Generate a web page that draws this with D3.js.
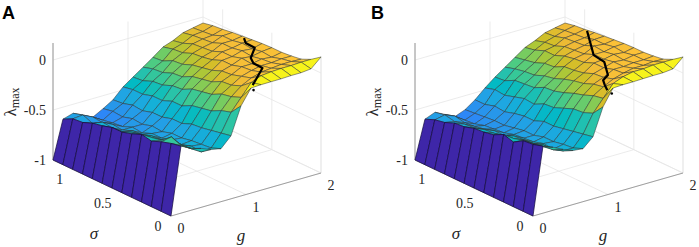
<!DOCTYPE html>
<html>
<head>
<meta charset="utf-8">
<script src="https://cdn.jsdelivr.net/npm/d3@7"></script>
<style>
  body { margin: 0; background: #fff; }
  svg { display: block; }
  text { font-family: "Liberation Serif", serif; fill: #262626; }
</style>
</head>
<body>
<div id="chart"></div>
<script>
const gValues = [0, 0.133, 0.267, 0.4, 0.533, 0.667, 0.8, 0.933, 1.067, 1.2, 1.333, 1.467, 1.6, 1.733, 1.867, 2]
const sigmaValues = [0, 0.1, 0.2, 0.3, 0.4, 0.5, 0.6, 0.7, 0.8, 0.9, 1, 1.1, 1.2]
const gTicks = [0, 1, 2]
const sigmaTicks = [0, 0.5, 1]
const lambdaTicks = [-1, -0.5, 0]

// parula, every third step of the 64 level map
const parula = ["#3e26a8", "#4332cb", "#4741e5", "#4852f4", "#4563fd", "#3875fe", "#2d87f7", "#2796eb", "#20a5e3", "#12b1d6", "#02bac3", "#24c1ae", "#37c897", "#57cc7a", "#80cc59", "#abc739", "#d1bf27", "#efba36", "#fec338", "#fad62d", "#f5e924", "#f9fb15"]

// rows are sigma, columns are g
const surfaceA = [
  [-1, -0.33, -0.38, -0.41, -0.45, -0.47, -0.37, -0.10, 0.05, 0.055, 0.056, 0.056, 0.06, 0.06, 0.07, 0.16],
  [-1, -0.35, -0.40, -0.46, -0.52, -0.51, -0.39, -0.21, -0.09, 0.03, 0.07, 0.08, 0.085, 0.085, 0.09, 0.09],
  [-1, -0.38, -0.36, -0.47, -0.51, -0.52, -0.41, -0.24, -0.13, -0.05, 0, 0.03, 0.04, 0.05, 0.05, 0.045],
  [-1, -0.42, -0.44, -0.48, -0.54, -0.53, -0.43, -0.29, -0.15, -0.09, -0.03, 0, 0.02, 0.02, 0.03, 0.03],
  [-1, -0.40, -0.46, -0.51, -0.54, -0.55, -0.44, -0.31, -0.20, -0.10, -0.06, -0.01, -0.01, 0.01, 0, 0.02],
  [-1, -0.44, -0.48, -0.52, -0.57, -0.55, -0.48, -0.33, -0.22, -0.15, -0.07, -0.04, 0, -0.01, 0.01, 0.02],
  [-1, -0.47, -0.50, -0.55, -0.57, -0.58, -0.48, -0.38, -0.24, -0.17, -0.11, -0.04, -0.03, 0, -0.01, 0.015],
  [-1, -0.47, -0.54, -0.56, -0.61, -0.57, -0.51, -0.38, -0.29, -0.19, -0.13, -0.08, -0.03, -0.02, 0, 0.005],
  [-1, -0.50, -0.55, -0.60, -0.60, -0.60, -0.51, -0.42, -0.30, -0.24, -0.15, -0.10, -0.07, -0.02, -0.02, -0.005],
  [-1, -0.52, -0.54, -0.59, -0.64, -0.59, -0.54, -0.42, -0.34, -0.25, -0.19, -0.11, -0.08, -0.06, -0.02, -0.015],
  [-1, -0.56, -0.60, -0.62, -0.65, -0.62, -0.53, -0.45, -0.35, -0.29, -0.20, -0.15, -0.09, -0.07, -0.06, -0.03],
  [-1, -0.57, -0.56, -0.61, -0.67, -0.61, -0.56, -0.45, -0.39, -0.30, -0.25, -0.16, -0.13, -0.08, -0.07, -0.04],
  [-1, -0.62, -0.59, -0.64, -0.685, -0.63, -0.57, -0.47, -0.40, -0.33, -0.26, -0.185, -0.15, -0.10, -0.08, -0.06]
]

const surfaceB = [
  [-1, -0.33, -0.37, -0.42, -0.46, -0.47, -0.38, -0.11, 0.05, 0.055, 0.055, 0.058, 0.06, 0.06, 0.07, 0.16],
  [-1, -0.36, -0.41, -0.47, -0.51, -0.51, -0.40, -0.22, -0.10, 0.02, 0.06, 0.08, 0.08, 0.09, 0.09, 0.09],
  [-1, -0.37, -0.43, -0.47, -0.54, -0.52, -0.42, -0.26, -0.12, -0.06, -0.01, 0.02, 0.04, 0.04, 0.05, 0.045],
  [-1, -0.43, -0.44, -0.50, -0.53, -0.54, -0.44, -0.27, -0.16, -0.08, -0.04, 0.01, 0.01, 0.02, 0.02, 0.03],
  [-1, -0.40, -0.47, -0.51, -0.56, -0.54, -0.46, -0.31, -0.19, -0.12, -0.05, -0.02, 0.01, 0, 0.02, 0.02],
  [-1, -0.45, -0.49, -0.52, -0.57, -0.57, -0.46, -0.35, -0.23, -0.14, -0.09, -0.02, -0.01, 0.01, 0, 0.02],
  [-1, -0.47, -0.51, -0.56, -0.58, -0.57, -0.50, -0.36, -0.26, -0.17, -0.11, -0.06, -0.01, -0.01, 0.01, 0.015],
  [-1, -0.48, -0.52, -0.56, -0.61, -0.59, -0.50, -0.41, -0.27, -0.21, -0.12, -0.07, -0.05, 0, -0.01, 0.005],
  [-1, -0.51, -0.55, -0.59, -0.62, -0.61, -0.52, -0.40, -0.32, -0.23, -0.17, -0.09, -0.06, -0.04, -0.01, -0.005],
  [-1, -0.52, -0.56, -0.61, -0.63, -0.61, -0.55, -0.43, -0.33, -0.27, -0.18, -0.13, -0.07, -0.05, -0.04, -0.015],
  [-1, -0.56, -0.58, -0.62, -0.66, -0.62, -0.54, -0.46, -0.34, -0.28, -0.22, -0.13, -0.11, -0.06, -0.05, -0.03],
  [-1, -0.58, -0.56, -0.60, -0.67, -0.63, -0.57, -0.45, -0.39, -0.30, -0.24, -0.17, -0.12, -0.09, -0.06, -0.04],
  [-1, -0.62, -0.58, -0.63, -0.68, -0.64, -0.57, -0.48, -0.40, -0.33, -0.26, -0.19, -0.15, -0.10, -0.08, -0.06]
]

// black curve, where lambda reaches 0
const curveGA = [1.97, 1.90, 1.89, 1.68, 1.61, 1.60, 1.38, 1.22]
const curveSigmaA = [0.76, 0.69, 0.59, 0.47, 0.39, 0.29, 0.18, 0.10]
const dotGA = [1.14]
const dotSigmaA = [0.03]

const curveGB = [1.94, 1.57, 1.54, 1.34, 1.21, 1.14, 1.07]
const curveSigmaB = [0.93, 0.58, 0.45, 0.26, 0.21, 0.14, 0.06]
const dotGB = [1.05]
const dotSigmaB = [0]

const svg = d3.select("#chart").append("svg")
  .attr("width", 699)
  .attr("height", 247)

function drawPanel(letter, letterX, offsetX, surface, curveG, curveSigma, dotG, dotSigma)
{
  var g = svg.append("g").attr("transform", "translate(" + offsetX + ",0)")

  // orthographic view, each axis adds its own screen shift
  var gX = d3.scaleLinear().domain([0, 2]).range([0, 150])
  var gY = d3.scaleLinear().domain([0, 2]).range([0, -43])
  var sX = d3.scaleLinear().domain([0, 1.2]).range([0, -118])
  var sY = d3.scaleLinear().domain([0, 1.2]).range([0, -56])
  var zY = d3.scaleLinear().domain([-1, 0.17]).range([0, -117])

  const project = (gv, s, z) => [171 + gX(gv) + sX(s), 216 + gY(gv) + sY(s) + zY(z)]

  var level = d3.scaleLinear().domain([-1, -0.05, 0.1]).range([0, 0.82, 0.88]).clamp(true)
  var ramp = d3.scaleLinear()
    .domain(parula.map((c, i) => i / (parula.length - 1)))
    .range(parula)

  // first sigma row is bright yellow once g passes 1
  const cellColor = d => {
    if (d.j == 0 && gValues[d.i] > 1) return ramp(0.98)
    return ramp(level(surface[d.j][d.i]))
  }

  var line = d3.line()

  function grid(points)
  {
    g.append("path")
      .attr("d", line(points))
      .attr("fill", "none")
      .attr("stroke", "#e6e6e6")
      .attr("stroke-width", 0.8)
  }

  // back walls and floor
  lambdaTicks.forEach(z => {
    grid([project(0, 1.2, z), project(2, 1.2, z), project(2, 0, z)])
  })
  gTicks.forEach(t => {
    grid([project(t, 0, -1), project(t, 1.2, -1), project(t, 1.2, 0.17)])
  })
  sigmaTicks.forEach(t => {
    grid([project(0, t, -1), project(2, t, -1), project(2, t, 0.17)])
  })
  grid([project(0, 1.2, -1), project(0, 1.2, 0.17)])
  grid([project(2, 0, -1), project(2, 0, 0.17)])

  // box edges
  var edges = [
    [project(0, 1.2, -1), project(0, 0, -1)],
    [project(0, 0, -1), project(2, 0, -1)],
    [project(0, 1.2, -1), project(0, 1.2, 0.17)]
  ]
  edges.forEach(e => {
    g.append("path")
      .attr("d", line(e))
      .attr("stroke", "#8c8c8c")
      .attr("stroke-width", 0.8)
  })

  // painter order, far corner first
  var cells = []
  for (let i = gValues.length - 2; i >= 0; i--) {
    for (let j = sigmaValues.length - 2; j >= 0; j--) {
      cells.push({i: i, j: j})
    }
  }

  g.selectAll(".cell")
    .data(cells)
    .enter()
    .append("path")
    .attr("class", "cell")
    .attr("d", d => line([
      project(gValues[d.i], sigmaValues[d.j], surface[d.j][d.i]),
      project(gValues[d.i + 1], sigmaValues[d.j], surface[d.j][d.i + 1]),
      project(gValues[d.i + 1], sigmaValues[d.j + 1], surface[d.j + 1][d.i + 1]),
      project(gValues[d.i], sigmaValues[d.j + 1], surface[d.j + 1][d.i])
    ]) + "Z")
    .attr("fill", cellColor)
    .attr("stroke", d => d.i == 0 ? "#120a3c" : "#2b3030")
    .attr("stroke-width", d => d.i == 0 ? 0.7 : 0.5)
    .attr("stroke-linejoin", "round")

  // curve on top of the surface
  g.append("path")
    .attr("d", line(curveG.map((v, i) => project(v, curveSigma[i], 0))))
    .attr("fill", "none")
    .attr("stroke", "#000")
    .attr("stroke-width", 2.2)
    .attr("stroke-linejoin", "round")

  g.selectAll(".dot")
    .data(dotG)
    .enter()
    .append("circle")
    .attr("class", "dot")
    .attr("cx", (d, i) => project(d, dotSigma[i], 0)[0])
    .attr("cy", (d, i) => project(d, dotSigma[i], 0)[1])
    .attr("r", 1.3)
    .attr("fill", "#000")

  // tick labels
  gTicks.forEach(t => {
    var p = project(t, 0, -1)
    g.append("text")
      .attr("x", p[0] + 10).attr("y", p[1] + 17)
      .attr("text-anchor", "middle")
      .style("font-size", "14px")
      .text(t)
  })
  sigmaTicks.forEach(t => {
    var p = project(0, t, -1)
    g.append("text")
      .attr("x", p[0] - 13 - (t == 0.5 ? 6 : 0)).attr("y", p[1] + 15)
      .attr("text-anchor", "middle")
      .style("font-size", "14px")
      .text(t)
  })
  lambdaTicks.forEach(t => {
    var p = project(0, 1.2, t)
    g.append("text")
      .attr("x", p[0] - 7).attr("y", p[1] + 5)
      .attr("text-anchor", "end")
      .style("font-size", "14px")
      .text(t)
  })

  // axis titles
  g.append("text")
    .attr("x", 94).attr("y", 239)
    .attr("text-anchor", "middle")
    .style("font-size", "17px")
    .style("font-style", "italic")
    .text("σ")
  g.append("text")
    .attr("x", 241).attr("y", 241)
    .attr("text-anchor", "middle")
    .style("font-size", "17px")
    .style("font-style", "italic")
    .text("g")

  var zLabel = g.append("text")
    .attr("transform", "translate(16,102)rotate(-90)")
    .attr("text-anchor", "middle")
  zLabel.append("tspan")
    .style("font-size", "17px")
    .text("λ")
  zLabel.append("tspan")
    .attr("dy", 3)
    .style("font-size", "12px")
    .text("max")

  svg.append("text")
    .attr("x", letterX).attr("y", 19)
    .style("font-family", "'Liberation Sans', sans-serif")
    .style("font-weight", "bold")
    .style("font-size", "18px")
    .style("fill", "#000")
    .text(letter)
}

drawPanel("A", 2, 0, surfaceA, curveGA, curveSigmaA, dotGA, dotSigmaA)
drawPanel("B", 371, 362, surfaceB, curveGB, curveSigmaB, dotGB, dotSigmaB)
</script>
</body>
</html>
